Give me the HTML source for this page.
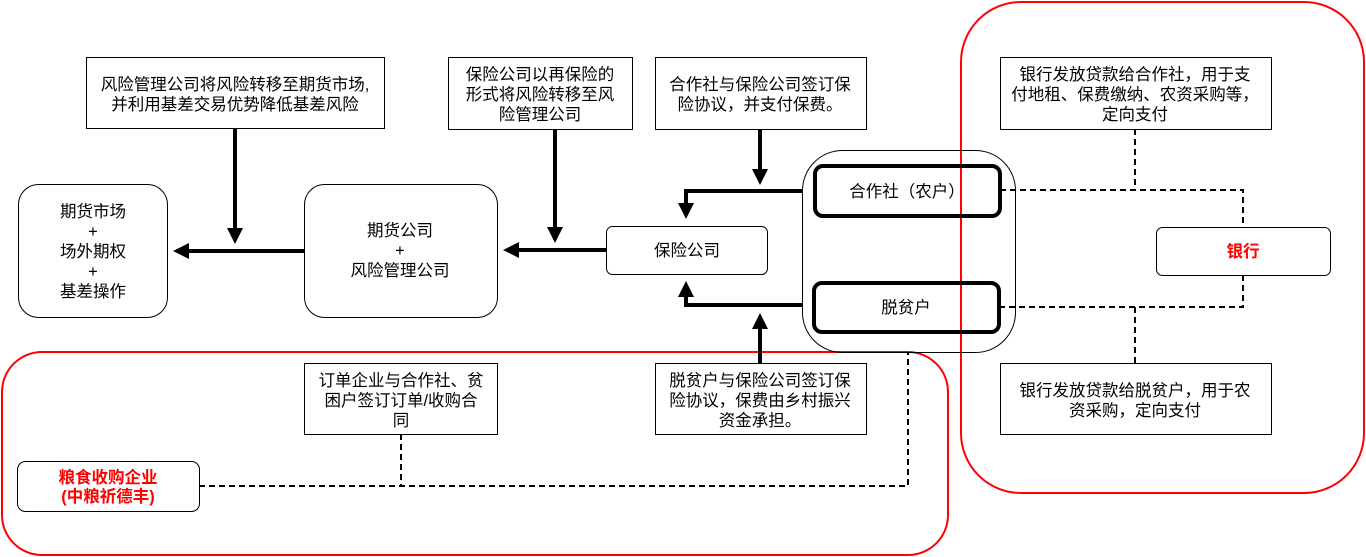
<!DOCTYPE html>
<html><head><meta charset="utf-8"><style>
html,body{margin:0;padding:0;background:#fff;}
svg{display:block;}
text{font-family:"Liberation Sans","Noto Sans CJK SC",sans-serif;font-size:16.5px;fill:#000;}
</style></head><body>
<svg width="1366" height="557" viewBox="0 0 1366 557" xmlns="http://www.w3.org/2000/svg">
<defs>
<marker id="a" markerWidth="4" markerHeight="4" refX="3" refY="2" orient="auto" markerUnits="strokeWidth">
<path d="M0,0 L4,2 L0,4 Z" fill="#000"/></marker>
</defs>
<g fill="none" stroke="#000">
<rect x="2" y="352" width="946" height="203" rx="40" stroke="#f00" stroke-width="2"/>
<rect x="961" y="2" width="403" height="491" rx="60" stroke="#f00" stroke-width="2"/>
<rect x="18.5" y="184.5" width="149" height="133" rx="20"/>
<rect x="304.5" y="184.5" width="193" height="133" rx="20"/>
<rect x="606.5" y="226.5" width="161" height="48" rx="6"/>
<rect x="802.5" y="150.5" width="213" height="202" rx="40"/>
<rect x="815" y="166" width="185" height="50" rx="8" stroke-width="4"/>
<rect x="814" y="283" width="185" height="49" rx="8" stroke-width="4"/>
<rect x="1156.5" y="227.5" width="174" height="48" rx="6"/>
<rect x="86.5" y="57.5" width="298" height="71"/>
<rect x="448.5" y="57.5" width="184" height="72"/>
<rect x="655.5" y="57.5" width="211" height="72"/>
<rect x="1000.5" y="57.5" width="271" height="72"/>
<rect x="1000.5" y="363.5" width="271" height="71"/>
<rect x="304.5" y="363.5" width="193" height="71"/>
<rect x="655.5" y="363.5" width="211" height="71"/>
<rect x="17.5" y="461.5" width="182" height="50" rx="8"/>
<g stroke-width="4">
<line x1="304" y1="251" x2="177" y2="251" marker-end="url(#a)"/>
<line x1="606" y1="250" x2="507" y2="250" marker-end="url(#a)"/>
<line x1="235" y1="128" x2="235" y2="240" marker-end="url(#a)"/>
<line x1="555" y1="129" x2="555" y2="239" marker-end="url(#a)"/>
<line x1="760" y1="129" x2="760" y2="181" marker-end="url(#a)"/>
<polyline points="802,191 686,191 686,215" marker-end="url(#a)"/>
<polyline points="802,305 686,305 686,285" marker-end="url(#a)"/>
<line x1="760" y1="363" x2="760" y2="317" marker-end="url(#a)"/>
</g>
<g stroke-width="2" stroke-dasharray="6,4">
<polyline points="1000,190 1243,190 1243,227"/>
<line x1="1135" y1="129" x2="1135" y2="190"/>
<polyline points="999,307 1243,307 1243,275"/>
<line x1="1135" y1="307" x2="1135" y2="363"/>
<polyline points="199,486 908,486 908,352"/>
<line x1="401" y1="434" x2="401" y2="486"/>
</g>
</g>
<g text-anchor="middle">
<text x="93" y="217">期货市场</text>
<text x="93" y="237">+</text>
<text x="93" y="257">场外期权</text>
<text x="93" y="277">+</text>
<text x="93" y="297">基差操作</text>
<text x="400" y="236">期货公司</text>
<text x="400" y="256">+</text>
<text x="400" y="276">风险管理公司</text>
<text x="687" y="256">保险公司</text>
<text x="907" y="197">合作社（农户）</text>
<text x="906" y="313">脱贫户</text>
<text x="1243" y="257" style="fill:#f00;font-weight:bold">银行</text>
<text x="235" y="90">风险管理公司将风险转移至期货市场,</text>
<text x="235" y="110">并利用基差交易优势降低基差风险</text>
<text x="540" y="80">保险公司以再保险的</text>
<text x="540" y="100">形式将风险转移至风</text>
<text x="540" y="120">险管理公司</text>
<text x="760" y="90">合作社与保险公司签订保</text>
<text x="760" y="110">险协议，并支付保费。</text>
<text x="1135" y="80">银行发放贷款给合作社，用于支</text>
<text x="1135" y="100">付地租、保费缴纳、农资采购等，</text>
<text x="1135" y="120">定向支付</text>
<text x="1135" y="396">银行发放贷款给脱贫户，用于农</text>
<text x="1135" y="416">资采购，定向支付</text>
<text x="401" y="386">订单企业与合作社、贫</text>
<text x="401" y="406">困户签订订单/收购合</text>
<text x="401" y="426">同</text>
<text x="760" y="386">脱贫户与保险公司签订保</text>
<text x="760" y="406">险协议，保费由乡村振兴</text>
<text x="760" y="426">资金承担。</text>
<text x="108" y="483" style="fill:#f00;font-weight:bold">粮食收购企业</text>
<text x="108" y="502" style="fill:#f00;font-weight:bold">(中粮祈德丰)</text>
</g>
</svg>
</body></html>
